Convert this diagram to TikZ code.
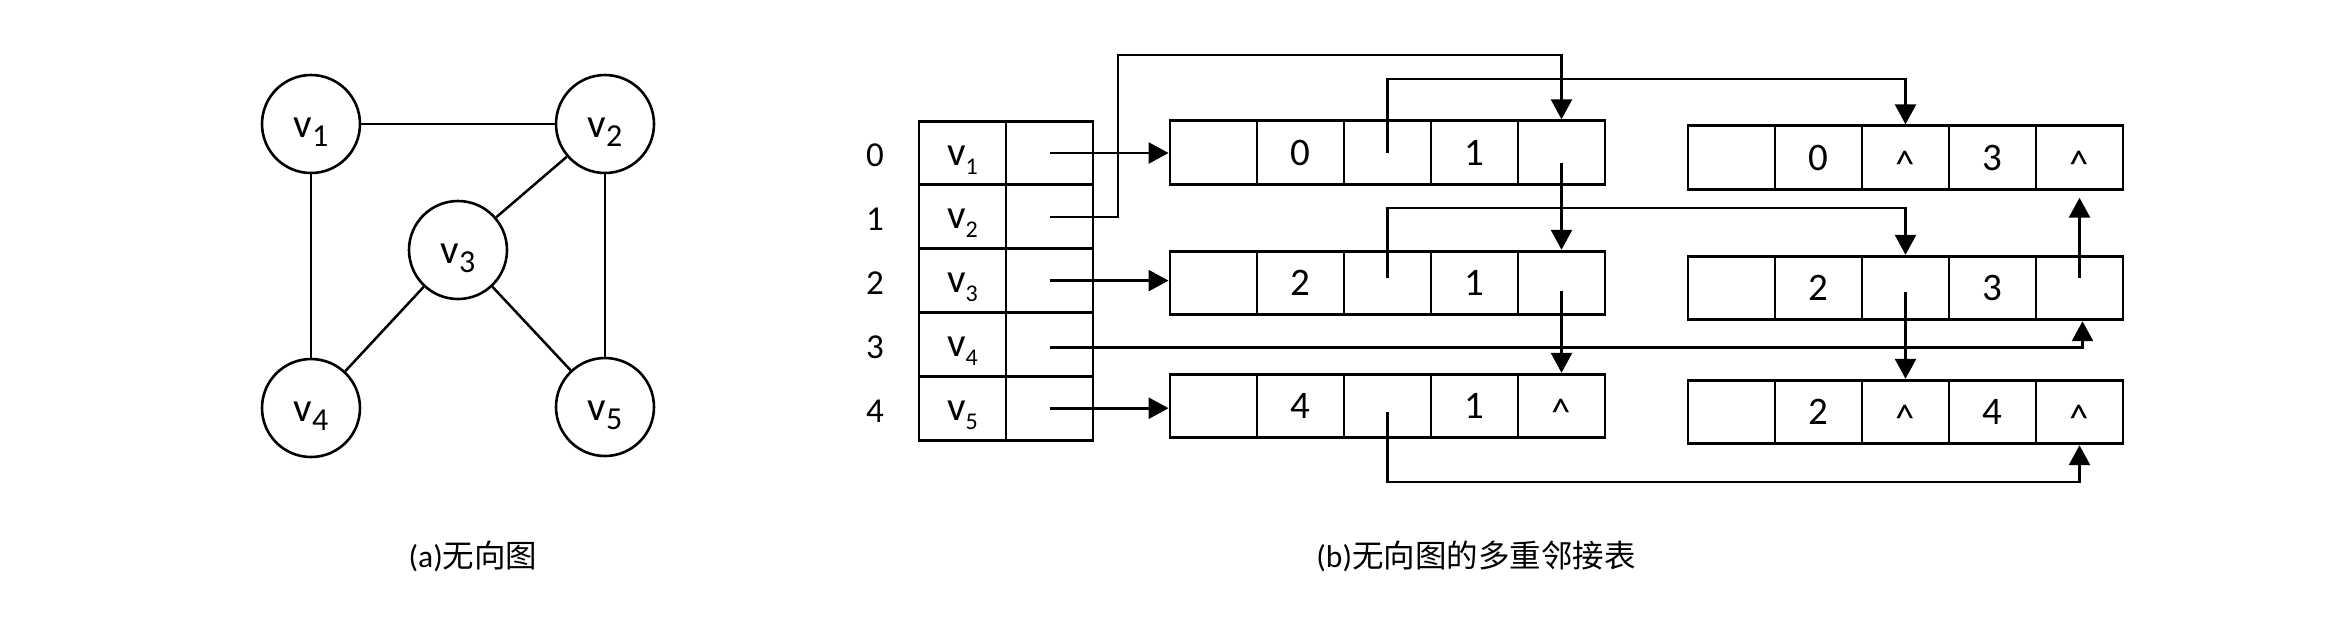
\documentclass[tikz,border=0pt]{standalone}
\usepackage{fontspec}
\setmainfont{Carlito}
\newfontfamily\cjk{Noto Sans CJK SC}
\usetikzlibrary{arrows.meta,calc}
\newcommand\gv[1]{\raisebox{-13pt}[0pt][0pt]{v\raisebox{-9pt}{\fontsize{32}{32}\selectfont#1}}}
\newcommand\tv[1]{\raisebox{-12pt}[0pt][0pt]{v\raisebox{-9pt}{\fontsize{24}{24}\selectfont#1}}}
\newcommand\nul{\raisebox{-0.5em}[0pt][0pt]{\textasciicircum}}
\tikzset{
  vert/.style={draw, circle, line width=2.6pt, minimum size=98pt, inner sep=0pt, font=\fontsize{41}{48}\selectfont},
  edge/.style={line width=2.5pt},
  cell/.style={draw, line width=2.9pt, minimum width=87pt, minimum height=63.5pt, inner sep=0pt, font=\fontsize{39}{44}\selectfont},
  hcell/.style={cell, minimum height=63.8pt, font=\fontsize{41}{48}\selectfont},
  idx/.style={inner sep=0pt, font=\fontsize{35}{40}\selectfont},
  arr/.style={line width=2.6pt, -{Triangle[length=20pt,width=21pt]}},
  caption/.style={inner sep=0pt, font=\fontsize{31.5}{36}\selectfont}
}
\begin{document}
\begin{tikzpicture}[x=1pt,y=-1pt]
\useasboundingbox (0,0) rectangle (2339,625);
% graph
\node[vert] (g1) at (311,124) {\gv1};
\node[vert] (g2) at (605,124) {\gv2};
\node[vert] (g3) at (458,250) {\gv3};
\node[vert] (g4) at (311,408) {\gv4};
\node[vert] (g5) at (605,407) {\gv5};
\draw[edge] (g1) -- (g2);
\draw[edge] (g1) -- (g4);
\draw[edge] (g2) -- (g5);
\draw[edge] (g2) -- (g3);
\draw[edge] (g3) -- (g4);
\draw[edge] (g3) -- (g5);
% index labels
\node[idx] (i0) at (875,155) {0};
\node[idx] (i1) at (875,219) {1};
\node[idx] (i2) at (875,283) {2};
\node[idx] (i3) at (875,347) {3};
\node[idx] (i4) at (875,411) {4};
% head table
\node[hcell] (h0a) at (962.5,153) {\tv1};
\node[hcell] (h0b) at (1049.5,153) {};
\node[hcell] (h1a) at (962.5,216.8) {\tv2};
\node[hcell] (h1b) at (1049.5,216.8) {};
\node[hcell] (h2a) at (962.5,280.6) {\tv3};
\node[hcell] (h2b) at (1049.5,280.6) {};
\node[hcell] (h3a) at (962.5,344.4) {\tv4};
\node[hcell] (h3b) at (1049.5,344.4) {};
\node[hcell] (h4a) at (962.5,408.2) {\tv5};
\node[hcell] (h4b) at (1049.5,408.2) {};
% edge nodes column 1
\node[cell] (A1) at (1213.5,152.5) {};
\node[cell] (A2) at (1300.5,152.5) {0};
\node[cell] (A3) at (1387.5,152.5) {};
\node[cell] (A4) at (1474.5,152.5) {1};
\node[cell] (A5) at (1561.5,152.5) {};
\node[cell] (B1) at (1213.5,283) {};
\node[cell] (B2) at (1300.5,283) {2};
\node[cell] (B3) at (1387.5,283) {};
\node[cell] (B4) at (1474.5,283) {1};
\node[cell] (B5) at (1561.5,283) {};
\node[cell] (C1) at (1213.5,406) {};
\node[cell] (C2) at (1300.5,406) {4};
\node[cell] (C3) at (1387.5,406) {};
\node[cell] (C4) at (1474.5,406) {1};
\node[cell] (C5) at (1561.5,406) {\nul};
% edge nodes column 2
\node[cell] (D1) at (1731.5,157.5) {};
\node[cell] (D2) at (1818.5,157.5) {0};
\node[cell] (D3) at (1905.5,157.5) {\nul};
\node[cell] (D4) at (1992.5,157.5) {3};
\node[cell] (D5) at (2079.5,157.5) {\nul};
\node[cell] (E1) at (1731.5,288) {};
\node[cell] (E2) at (1818.5,288) {2};
\node[cell] (E3) at (1905.5,288) {};
\node[cell] (E4) at (1992.5,288) {3};
\node[cell] (E5) at (2079.5,288) {};
\node[cell] (F1) at (1731.5,412) {};
\node[cell] (F2) at (1818.5,412) {2};
\node[cell] (F3) at (1905.5,412) {\nul};
\node[cell] (F4) at (1992.5,412) {4};
\node[cell] (F5) at (2079.5,412) {\nul};
% routing points
\coordinate (k1) at (1118,55);
\coordinate (k2) at (1387.5,79);
\coordinate (k3) at (1387.5,208);
\coordinate (k4) at (1387.5,482);
% connectors
\draw[arr] (h0b.center) -- (h0b.center -| A1.west);
\draw[arr] (h1b.center) -| (k1) -| (A5.north);
\draw[arr] (h2b.center) -- (h2b.center -| B1.west);
\draw[arr] ([yshift=-3pt]h3b.center) -| ([xshift=3pt]E5.south);
\draw[arr] (h4b.center) -- (h4b.center -| C1.west);
\draw[arr] (A3.center) -- (k2) -| (D3.north);
\draw[arr] ([yshift=-10pt]A5.center) -- (B5.north);
\draw[arr] ([yshift=5pt]B3.center) -- (k3) -| (E3.north);
\draw[arr] ([yshift=-8pt]B5.center) -- (C5.north);
\draw[arr] ([yshift=-6pt]C3.center) -- (k4) -| (F5.south);
\draw[arr] ([yshift=-4pt]E3.center) -- (F3.north);
\draw[arr] ([yshift=10pt]E5.center) -- ([yshift=-7pt]D5.south);
% captions
\node[caption] (capa) at (473,556) {(a)\cjk 无向图};
\node[caption] (capb) at (1476,556) {(b)\cjk 无向图的多重邻接表};
\end{tikzpicture}
\end{document}
